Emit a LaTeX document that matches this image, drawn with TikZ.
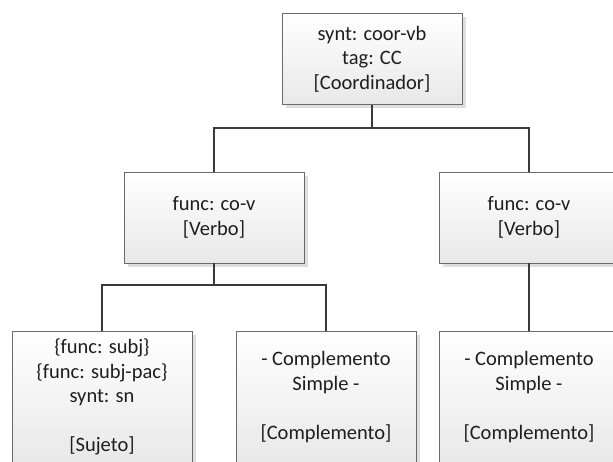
\documentclass[tikz,border=0pt]{standalone}
\usepackage{fontspec}
\setmainfont{Carlito}
\usetikzlibrary{shadows}
\definecolor{boxline}{HTML}{6A6A6A}
\definecolor{conn}{HTML}{3A3A3A}
\definecolor{txt}{HTML}{1E1E1E}
\begin{document}
\begin{tikzpicture}[x=1pt,y=-1pt,
  box/.style={rectangle, draw=boxline, line width=0.9pt, top color=white, bottom color=black!9,
    minimum width=180pt, align=center, text=txt,
    font=\fontsize{20.5}{24.5}\selectfont, inner sep=2pt,
    drop shadow={shadow xshift=4pt, shadow yshift=-4pt, fill=black!13, opacity=1}},
  upper/.style={box, minimum height=91pt},
  lower/.style={box, minimum height=132pt},
  link/.style={draw=conn, line width=2.5pt}]
\useasboundingbox (0,0) rectangle (613,462);
\clip (0,0) rectangle (613,462);
\fill[white] (0,0) rectangle (613,462);
\node[upper] (top) at (372,59) {synt: coor-vb\\ tag: CC\\ {[Coordinador]}};
\node[upper] (m1) at (214,217.5) {func: co-v\\ {[Verbo]}};
\node[upper] (m2) at (529,217.5) {func: co-v\\ {[Verbo]}};
\node[lower] (b1) at (102,397) {\{func: subj\}\\ \{func: subj-pac\}\\ synt: sn\\ \mbox{}\\ {[Sujeto]}};
\node[lower] (b2) at (326,397) {- Complemento\\ Simple -\\ \mbox{}\\ {[Complemento]}};
\node[lower] (b3) at (529,397) {- Complemento\\ Simple -\\ \mbox{}\\ {[Complemento]}};
\coordinate (j1) at (0,128);
\coordinate (j2) at (0,285);
\draw[link] (top.south) -- (top.south |- j1) -| (m1.north);
\draw[link] (top.south) -- (top.south |- j1) -| (m2.north);
\draw[link] (m1.south) -- (m1.south |- j2) -| (b1.north);
\draw[link] (m1.south) -- (m1.south |- j2) -| (b2.north);
\draw[link] (m2.south) -- (b3.north);
\end{tikzpicture}
\end{document}
